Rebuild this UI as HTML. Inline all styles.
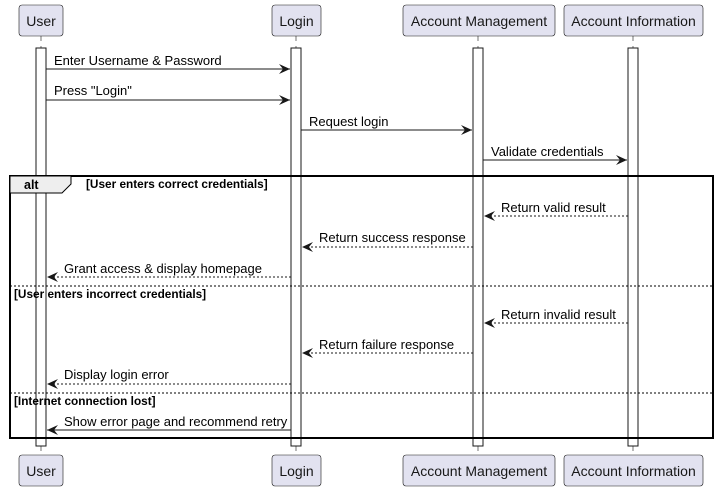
<!DOCTYPE html>
<html><head><meta charset="utf-8"><style>body{margin:0;background:#fff}svg{display:block}</style></head><body>
<svg width="719" height="491" xmlns="http://www.w3.org/2000/svg" font-family="Liberation Sans, sans-serif" font-size="13">
<defs><marker id="a" markerWidth="12" markerHeight="10" refX="11" refY="5" orient="auto" markerUnits="userSpaceOnUse"><path d="M0,0 L11,5 L0,10 L4,5 Z" fill="#181818"/></marker></defs>
<g stroke="#181818" stroke-width="0.6" stroke-dasharray="5,5">
<line x1="41" y1="36" x2="41" y2="455"/><line x1="296" y1="36" x2="296" y2="455"/><line x1="478" y1="36" x2="478" y2="455"/><line x1="633" y1="36" x2="633" y2="455"/>
</g>
<g fill="#E2E2F0" stroke="#181818" stroke-width="0.6">
<rect x="19" y="5" width="44" height="31" rx="3"/><rect x="272" y="5" width="49" height="31" rx="3"/><rect x="403" y="5" width="152" height="31" rx="3"/><rect x="564" y="5" width="139" height="31" rx="3"/>
<rect x="19" y="455" width="44" height="31" rx="3"/><rect x="272" y="455" width="49" height="31" rx="3"/><rect x="403" y="455" width="152" height="31" rx="3"/><rect x="564" y="455" width="139" height="31" rx="3"/>
</g>
<g font-size="14" fill="#181818" text-anchor="middle">
<text x="41" y="26">User</text><text x="296.5" y="26">Login</text><text x="479" y="26">Account Management</text><text x="633.5" y="26">Account Information</text>
<text x="41" y="476">User</text><text x="296.5" y="476">Login</text><text x="479" y="476">Account Management</text><text x="633.5" y="476">Account Information</text>
</g>
<g fill="#fff" stroke="#181818" stroke-width="1">
<rect x="36" y="48" width="10" height="398"/><rect x="291" y="48" width="10" height="398"/><rect x="473" y="48" width="10" height="398"/><rect x="628" y="48" width="10" height="398"/>
</g>
<rect x="10" y="176" width="703" height="262" fill="none" stroke="#000" stroke-width="2"/>
<path d="M10,176 H71 V184 L62,193 H10 Z" fill="#EEEEEE" stroke="#000" stroke-width="1"/>
<g fill="#000" font-size="11.8" font-weight="bold">
<text x="24" y="189" font-size="12.5">alt</text><text x="86" y="188">[User enters correct credentials]</text>
<text x="14" y="298">[User enters incorrect credentials]</text><text x="14" y="405">[Internet connection lost]</text>
</g>
<g stroke="#000" stroke-width="1" stroke-dasharray="2,2"><line x1="10" y1="286" x2="713" y2="286"/><line x1="10" y1="393" x2="713" y2="393"/></g>
<g stroke="#181818" stroke-width="1" marker-end="url(#a)">
<line x1="46" y1="69" x2="290" y2="69"/><line x1="46" y1="100" x2="290" y2="100"/>
<line x1="301" y1="130" x2="472" y2="130"/><line x1="483" y1="160" x2="627" y2="160"/>
<g stroke-dasharray="2,2">
<line x1="628" y1="216" x2="484" y2="216"/><line x1="473" y1="247" x2="302" y2="247"/><line x1="291" y1="277" x2="47" y2="277"/>
<line x1="628" y1="323" x2="484" y2="323"/><line x1="473" y1="353" x2="302" y2="353"/><line x1="291" y1="384" x2="47" y2="384"/>
</g>
<line x1="291" y1="430" x2="47" y2="430"/>
</g>
<g fill="#000" font-size="13">
<text x="54" y="65">Enter Username &amp; Password</text><text x="54" y="95">Press "Login"</text>
<text x="309" y="126">Request login</text><text x="491" y="156">Validate credentials</text>
<text x="501" y="212">Return valid result</text><text x="319" y="242">Return success response</text><text x="64" y="273">Grant access &amp; display homepage</text>
<text x="501" y="319">Return invalid result</text><text x="319" y="349">Return failure response</text><text x="64" y="379">Display login error</text>
<text x="64" y="426">Show error page and recommend retry</text>
</g>
</svg>
</body></html>
